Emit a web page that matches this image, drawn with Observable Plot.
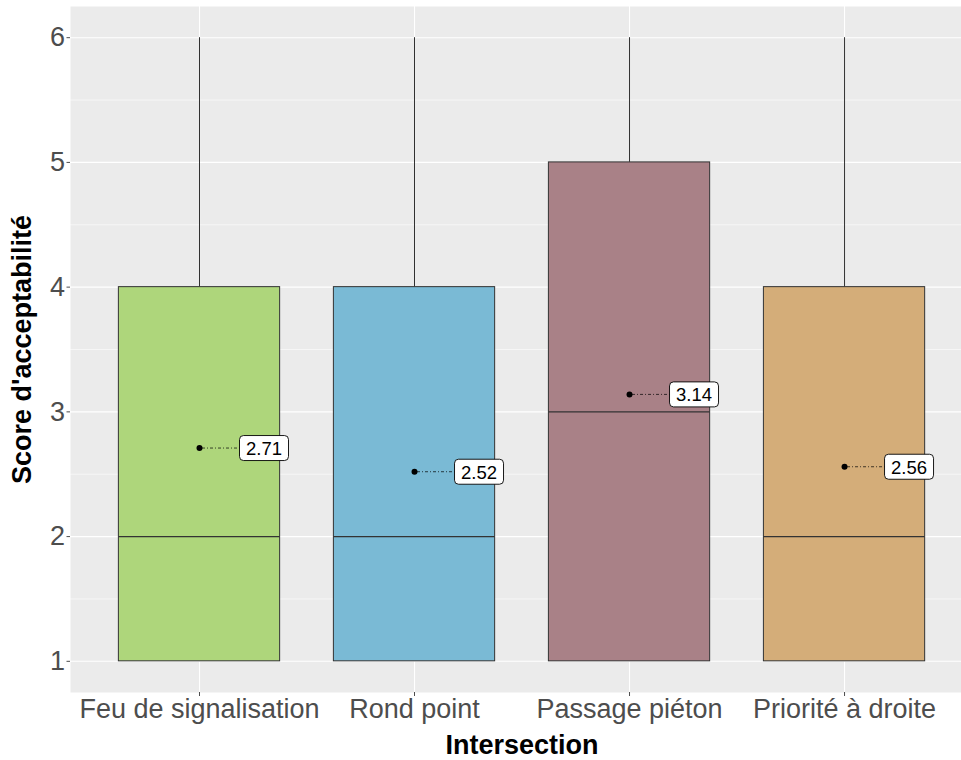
<!DOCTYPE html>
<html>
<head>
<meta charset="utf-8">
<script src="https://cdn.jsdelivr.net/npm/d3@7"></script>
<script src="https://cdn.jsdelivr.net/npm/@observablehq/plot@0.6"></script>
<style>
  html, body { margin: 0; padding: 0; background: #fff; }
</style>
</head>
<body>
<div id="chart"></div>
<script>
const categories = ["Feu de signalisation", "Rond point", "Passage piéton", "Priorité à droite"];
const lowerWhisker = [1, 1, 1, 1];
const q1 = [1, 1, 1, 1];
const median = [2, 2, 3, 2];
const q3 = [4, 4, 5, 4];
const upperWhisker = [6, 6, 6, 6];
const means = [2.71, 2.52, 3.14, 2.56];
const colors = ["#AED67B", "#7ABAD5", "#A98187", "#D4AD79"];
const yTicks = [1, 2, 3, 4, 5, 6];
const yMinor = [1.5, 2.5, 3.5, 4.5, 5.5];

const data = categories.map((c, k) => ({
  cat: c, i: k + 1, lo: lowerWhisker[k], q1: q1[k], med: median[k],
  q3: q3[k], hi: upperWhisker[k], mean: means[k], color: colors[k]
}));

const labelBox = {
  draw(ctx) {
    const w = 49, h = 25, r = 4, x = -w / 2, y = -h / 2;
    ctx.moveTo(x + r, y);
    ctx.lineTo(x + w - r, y);
    ctx.arcTo(x + w, y, x + w, y + r, r);
    ctx.lineTo(x + w, y + h - r);
    ctx.arcTo(x + w, y + h, x + w - r, y + h, r);
    ctx.lineTo(x + r, y + h);
    ctx.arcTo(x, y + h, x, y + h - r, r);
    ctx.lineTo(x, y + r);
    ctx.arcTo(x, y, x + r, y, r);
    ctx.closePath();
  }
};

const half = 0.375;
const labelOff = 0.3;

const chart = Plot.plot({
  width: 961,
  height: 760,
  marginLeft: 70,
  marginRight: 0,
  marginTop: 6,
  marginBottom: 68,
  style: { fontFamily: "'Liberation Sans', Arial, sans-serif", background: "#fff", overflow: "visible" },
  x: { type: "linear", domain: [0.4, 4.544], range: [70, 961] },
  y: { domain: [0.75, 6.25] },
  marks: [
    Plot.frame({ fill: "#EBEBEB", stroke: null }),
    Plot.ruleY(yMinor, { stroke: "#fff", strokeWidth: 0.55 }),
    Plot.ruleY(yTicks, { stroke: "#fff", strokeWidth: 1.1 }),
    Plot.ruleX(data, { x: "i", stroke: "#fff", strokeWidth: 1.1 }),
    Plot.ruleX(data, { x: "i", y1: "q3", y2: "hi", stroke: "#1a1a1a", strokeWidth: 0.9 }),
    Plot.ruleX(data, { x: "i", y1: "lo", y2: "q1", stroke: "#1a1a1a", strokeWidth: 0.9 }),
    Plot.rect(data, {
      x1: d => d.i - half, x2: d => d.i + half, y1: "q1", y2: "q3",
      fill: d => d.color, stroke: "#333333", strokeWidth: 1
    }),
    Plot.ruleY(data, {
      y: "med", x1: d => d.i - half, x2: d => d.i + half,
      stroke: "#333333", strokeWidth: 1.3
    }),
    Plot.ruleY(data, {
      y: "mean", x1: "i", x2: d => d.i + labelOff,
      stroke: "#000", strokeWidth: 0.7, strokeDasharray: "1,2,3,2"
    }),
    Plot.dot(data, { x: "i", y: "mean", r: 3, fill: "#000", stroke: null }),
    Plot.dot(data, {
      x: d => d.i + labelOff, y: "mean", symbol: labelBox,
      fill: "#fff", stroke: "#000", strokeWidth: 0.9
    }),
    Plot.text(data, {
      x: d => d.i + labelOff, y: "mean", text: d => d.mean.toFixed(2),
      fontSize: 18.5, fill: "#000", dy: 1
    }),
    Plot.axisY({
      ticks: yTicks, tickFormat: d => String(d), tickSize: 3.5, tickPadding: 2,
      fontSize: 27, color: "#4D4D4D", label: null
    }),
    Plot.axisX({
      ticks: [1, 2, 3, 4], tickFormat: d => categories[d - 1], tickSize: 4, tickPadding: 2,
      fontSize: 27, color: "#4D4D4D", label: null
    }),
    Plot.text(["Score d'acceptabilité"], {
      frameAnchor: "left", dx: -48, rotate: -90, textAnchor: "middle", lineAnchor: "middle",
      fontWeight: "bold", fontSize: 27, fill: "#000"
    }),
    Plot.text(["Intersection"], {
      frameAnchor: "bottom", dx: 6, dy: 53, textAnchor: "middle", lineAnchor: "middle",
      fontWeight: "bold", fontSize: 27, fill: "#000"
    })
  ]
});

document.getElementById("chart").appendChild(chart);
</script>
</body>
</html>
